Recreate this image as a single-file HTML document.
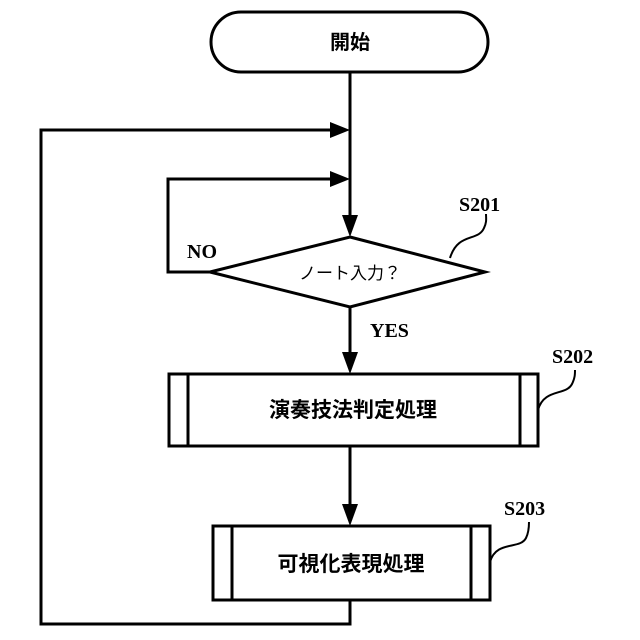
<!DOCTYPE html>
<html><head><meta charset="utf-8"><style>body{margin:0;background:#fff}svg{display:block}</style></head><body>
<svg width="640" height="640" viewBox="0 0 640 640" xmlns="http://www.w3.org/2000/svg">
<defs><marker id="a" markerWidth="10" markerHeight="10" refX="9" refY="5" orient="auto" markerUnits="userSpaceOnUse"><path d="M0,0 L0,0" /></marker></defs>
<g fill="none" stroke="#000" stroke-width="3">
<rect x="211" y="12" width="277" height="60" rx="30"/>
<line x1="350" y1="72" x2="350" y2="222"/>
<polyline points="350,600 350,624 41,624 41,130 330,130"/>
<polyline points="210,272 168,272 168,179 330,179"/>
<polygon points="350,237 485,272 350,307 210,272"/>
<line x1="350" y1="307" x2="350" y2="356"/>
<rect x="169" y="374" width="369" height="72"/>
<line x1="188" y1="374" x2="188" y2="446"/>
<line x1="520" y1="374" x2="520" y2="446"/>
<line x1="350" y1="446" x2="350" y2="506"/>
<rect x="213" y="526" width="277" height="74"/>
<line x1="232" y1="526" x2="232" y2="600"/>
<line x1="471" y1="526" x2="471" y2="600"/>
<path d="M450,258 C458,232 478,242 484,228 C487,222 486,218 486,214" stroke-width="2"/>
<path d="M538,410 C544,388 566,396 572,384 C575,378 575,374 575,370" stroke-width="2"/>
<path d="M490,562 C496,540 520,550 526,538 C529,532 529,526 529,522" stroke-width="2"/>
</g>
<g fill="#000">
<polygon points="330,122 350,130 330,138"/>
<polygon points="330,171 350,179 330,187"/>
<polygon points="342,215 358,215 350,237"/>
<polygon points="342,352 358,352 350,374"/>
<polygon points="342,504 358,504 350,526"/>
</g>
<g font-family="'Liberation Serif',serif" font-weight="bold" font-size="20" fill="#000">
<text x="187" y="258">NO</text>
<text x="370" y="337">YES</text>
<text x="459" y="211">S201</text>
<text x="552" y="363">S202</text>
<text x="504" y="515">S203</text>
</g>
<g font-family="'Liberation Sans','Noto Sans CJK JP',sans-serif" font-weight="bold" fill="#000" text-anchor="middle">
<text x="350" y="49" font-size="20">開始</text>
<text x="350" y="279" font-size="17" font-weight="normal">ノート入力？</text>
<text x="353" y="417" font-size="21">演奏技法判定処理</text>
<text x="351" y="571" font-size="21">可視化表現処理</text>
</g>
</svg>
</body></html>
